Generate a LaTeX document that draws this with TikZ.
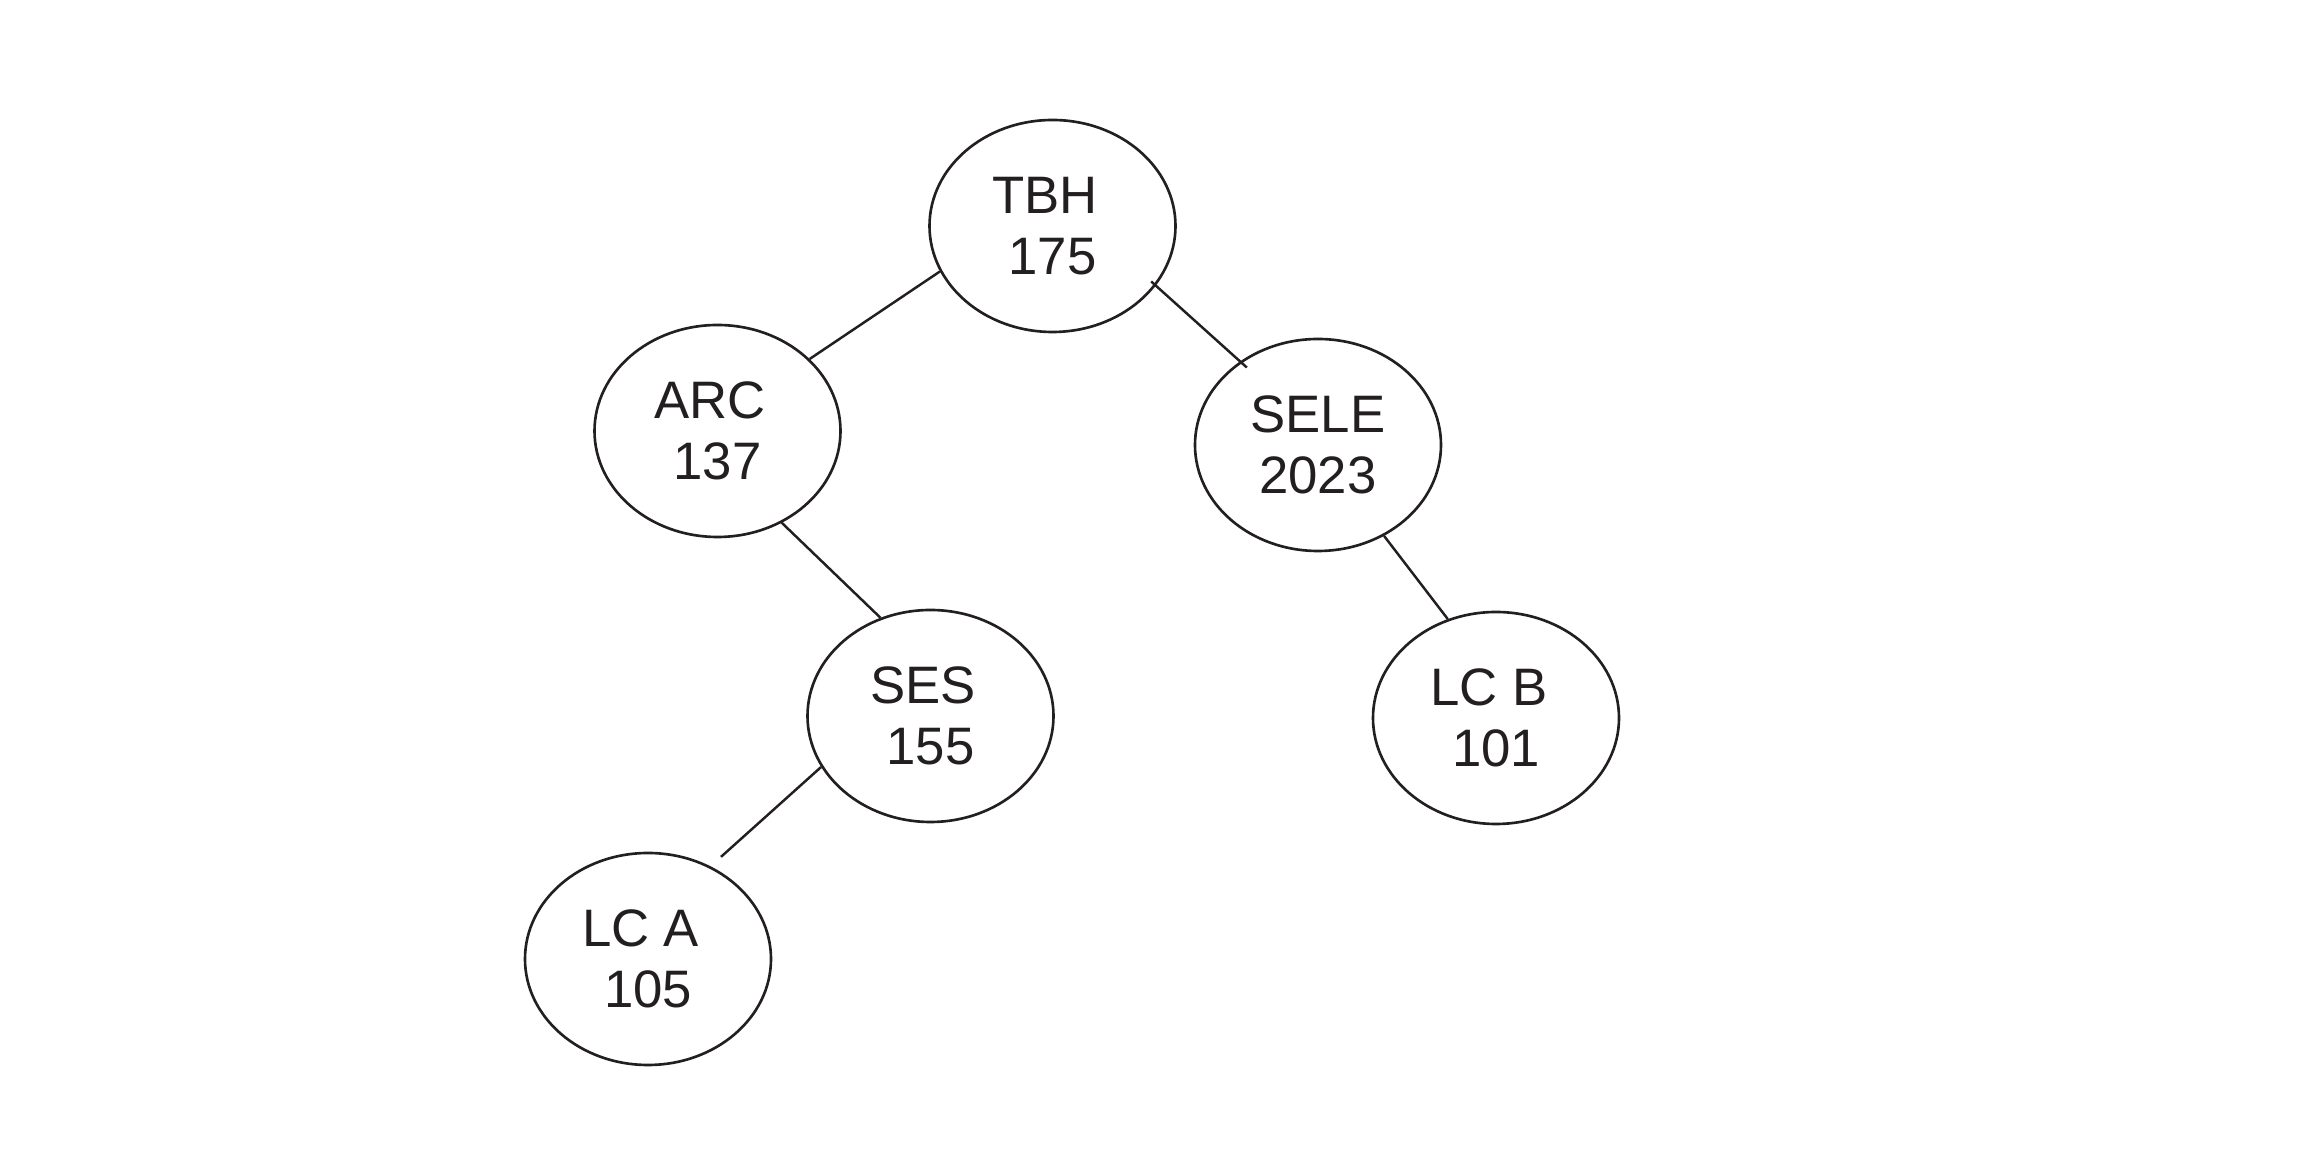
\documentclass[tikz,border=0pt]{standalone}
\usepackage{fontspec}
\setmainfont{Liberation Sans}
\usetikzlibrary{shapes.geometric}
\definecolor{ink}{HTML}{231F20}
\tikzstyle{treenode}=[ellipse,draw=ink,line width=0.75pt,minimum width=2.46cm,minimum height=2.12cm,inner sep=0pt,align=center,text=ink,font=\fontsize{15}{17.3}\selectfont]
\tikzstyle{branch}=[draw=ink,line width=0.7pt]
\newcommand{\pad}{\kern0.28em}% trailing blank after the first line
\newcommand{\treenode}[4]{% Syntax: {name}{x,y}{label}{value}
\node[treenode] (#1) at (#2) {#3\\#4};
}
\newcommand{\branch}[5][]{% Syntax: [options] {parent}{angle}{child}{angle}
\draw[branch,#1] (#2.#3) -- (#4.#5);
}

\begin{document}
\begin{tikzpicture}
	\useasboundingbox (0,0) rectangle (23.17,11.72);
	\treenode{tbh}{10.525,9.46}{TBH\pad}{175}
	\treenode{arc}{7.175,7.41}{ARC\pad}{137}
	\treenode{sele}{13.18,7.27}{SELE}{2023}
	\treenode{ses}{9.305,4.56}{SES\pad}{155}
	\treenode{lcb}{14.96,4.54}{LC B\pad}{101}
	\treenode{lca}{6.48,2.13}{LC A\pad}{105}
	% branches touch the rims, not the centres
	\branch{tbh}{202}{arc}{38}
	\branch[shorten <=-1.8pt,shorten >=-2.6pt]{tbh}{-30}{sele}{133}
	\branch{arc}{-55}{ses}{117.5}
	\branch{sele}{-54}{lcb}{116}
	\branch[shorten >=4pt]{ses}{205}{lca}{56}
\end{tikzpicture}
\end{document}
